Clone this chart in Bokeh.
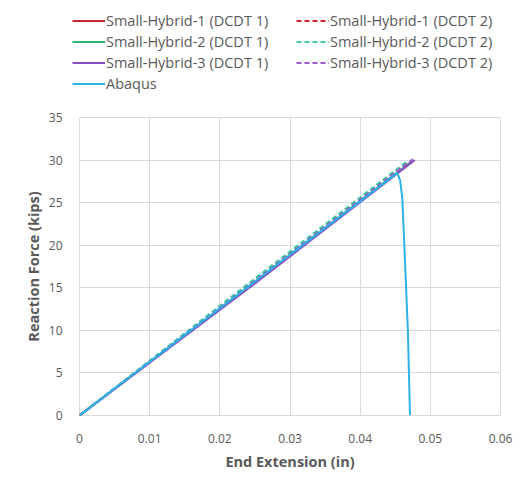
from bokeh.plotting import figure
from bokeh.layouts import column
from bokeh.models import Legend, LegendItem, FixedTicker, Range1d
from bokeh.embed import file_html
from bokeh.resources import INLINE

# Data
sh1_d1_x = [0.0, 0.0240, 0.0474]
sh1_d1_y = [0.0, 15.0, 29.8]
sh1_d2_x = [0.0, 0.0238, 0.0470]
sh1_d2_y = [0.0, 15.1, 29.8]
sh2_d1_x = [0.0, 0.0240, 0.0471]
sh2_d1_y = [0.0, 15.1, 29.7]
sh2_d2_x = [0.0, 0.0236, 0.0466]
sh2_d2_y = [0.0, 15.2, 29.8]
sh3_d1_x = [0.0, 0.0242, 0.0478]
sh3_d1_y = [0.0, 15.0, 30.0]
sh3_d2_x = [0.0, 0.0239, 0.0475]
sh3_d2_y = [0.0, 15.1, 30.1]
abaqus_x = [0.0, 0.0200, 0.0453, 0.0457, 0.0460, 0.0464, 0.0468, 0.0471]
abaqus_y = [0.0, 12.6, 28.5, 27.6, 25.6, 17.9, 10.0, 0.0]

x_ticks = [0, 0.01, 0.02, 0.03, 0.04, 0.05, 0.06]
y_ticks = [0, 5, 10, 15, 20, 25, 30, 35]

FONT = "Open Sans"
GREY = "#595959"

series = [
    (sh1_d1_x, sh1_d1_y, "#c0282d", "solid", "Small-Hybrid-1 (DCDT 1)"),
    (sh1_d2_x, sh1_d2_y, "#c0282d", "dashed", "Small-Hybrid-1 (DCDT 2)"),
    (sh2_d1_x, sh2_d1_y, "#33b37a", "solid", "Small-Hybrid-2 (DCDT 1)"),
    (sh2_d2_x, sh2_d2_y, "#3cc6a0", "dashed", "Small-Hybrid-2 (DCDT 2)"),
    (sh3_d1_x, sh3_d1_y, "#8a4fc2", "solid", "Small-Hybrid-3 (DCDT 1)"),
    (sh3_d2_x, sh3_d2_y, "#9b59d0", "dashed", "Small-Hybrid-3 (DCDT 2)"),
    (abaqus_x, abaqus_y, "#2ab4e6", "solid", "Abaqus"),
]

# ---- legend strip (separate figure so nothing is clipped) ----
TOP_H = 110
leg_fig = figure(width=521, height=TOP_H, output_backend="svg", toolbar_location=None,
                 x_axis_type=None, y_axis_type=None, x_range=Range1d(0, 1), y_range=Range1d(0, 1),
                 min_border_left=0, min_border_right=0, min_border_top=0, min_border_bottom=0)
leg_fig.outline_line_color = None
leg_fig.grid.visible = False
leg_fig.frame_align = False

# ---- main chart ----
p = figure(width=521, height=485 - TOP_H, output_backend="svg", toolbar_location=None,
           x_range=Range1d(0, 0.06), y_range=Range1d(0, 35),
           min_border_left=79, min_border_right=21, min_border_top=117 - TOP_H, min_border_bottom=70)
p.outline_line_color = "#d9d9d9"
p.frame_align = False

items = {}
for xs, ys, c, d, name in series:
    dash = "solid" if d == "solid" else "5 3"
    p.line(xs, ys, line_color=c, line_width=2, line_dash=dash)
    # legend-only copy, kept outside the visible range of the strip
    lr = leg_fig.line(xs, [v - 100 for v in ys], line_color=c, line_width=2, line_dash=dash)
    items[name] = LegendItem(label=name, renderers=[lr])

order = ["Small-Hybrid-1 (DCDT 1)", "Small-Hybrid-2 (DCDT 1)", "Small-Hybrid-3 (DCDT 1)", "Abaqus",
         "Small-Hybrid-1 (DCDT 2)", "Small-Hybrid-2 (DCDT 2)", "Small-Hybrid-3 (DCDT 2)"]
lg = Legend(items=[items[n] for n in order], location=(72, TOP_H - 94), orientation="vertical", ncols=2)
lg.border_line_color = None
lg.background_fill_alpha = 0
lg.label_text_font = FONT
lg.label_text_font_size = "14.5px"
lg.label_text_color = GREY
lg.glyph_width = 33
lg.glyph_height = 21
lg.label_height = 21
lg.label_width = 190
lg.label_standoff = 1
lg.spacing = 0
lg.padding = 0
lg.margin = 0
leg_fig.add_layout(lg, "center")

for ax in (p.xaxis[0], p.yaxis[0]):
    ax.axis_line_color = None
    ax.major_tick_line_color = None
    ax.minor_tick_line_color = None
    ax.major_label_text_font = FONT
    ax.major_label_text_font_size = "12px"
    ax.major_label_text_color = GREY
    ax.axis_label_text_font = FONT
    ax.axis_label_text_font_size = "14.5px"
    ax.axis_label_text_font_style = "bold"
    ax.axis_label_text_color = GREY

p.xaxis.ticker = FixedTicker(ticks=x_ticks)
p.yaxis.ticker = FixedTicker(ticks=y_ticks)
p.xaxis.major_label_overrides = {t: ("0" if t == 0 else f"{t:g}") for t in x_ticks}
p.xaxis.axis_label = "End Extension (in)"
p.yaxis.axis_label = "Reaction Force (kips)"
p.xaxis.major_label_standoff = 12
p.yaxis.major_label_standoff = 11
p.xaxis.axis_label_standoff = 6
p.yaxis.axis_label_standoff = 3

p.xgrid.grid_line_color = "#d9d9d9"
p.ygrid.grid_line_color = "#d9d9d9"

layout = column(leg_fig, p, spacing=0)
open("out.html", "w").write(file_html(layout, INLINE))
